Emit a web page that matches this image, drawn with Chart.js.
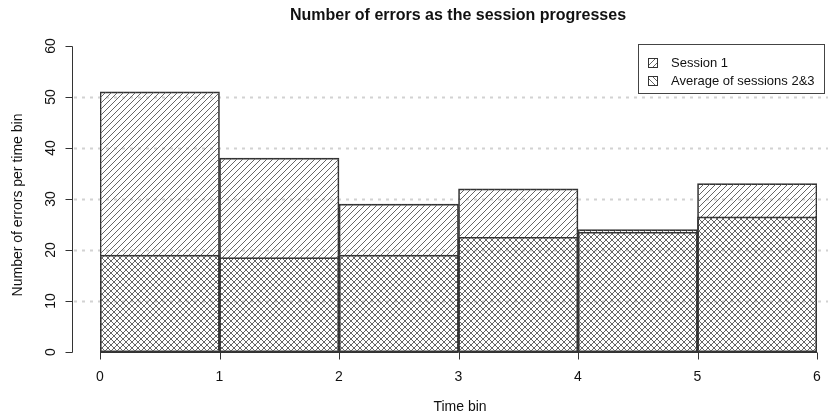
<!DOCTYPE html>
<html>
<head>
<meta charset="utf-8">
<script src="https://cdn.jsdelivr.net/npm/chart.js@4"></script>
<style>
  body { margin: 0; background: #fff; }
  #wrap { width: 828px; height: 418px; }
</style>
</head>
<body>
<div id="wrap"><canvas id="errorsChart" width="828" height="418"></canvas></div>
<script>
// Data
const binCentres = [0.5, 1.5, 2.5, 3.5, 4.5, 5.5];
const session1 = [51, 38, 29, 32, 24, 33];
const avgSessions23 = [19, 18.5, 19, 22.5, 23.5, 26.5];
const xTicks = [0, 1, 2, 3, 4, 5, 6];
const yTicks = [0, 10, 20, 30, 40, 50, 60];
const gridValues = [10, 20, 30, 40, 50];
const seriesNames = ["Session 1", "Average of sessions 2&3"];

const FONT = "'Liberation Sans', Arial, sans-serif";

// Build a transparent hatch pattern ("/" or "\")
function hatch(dir, colour) {
    const s = 6;
    const c = document.createElement("canvas");
    c.width = s; c.height = s;
    const g = c.getContext("2d");
    g.strokeStyle = colour;
    g.lineWidth = 1;
    g.beginPath();
    if (dir === "/") {
        g.moveTo(-1, s + 1); g.lineTo(s + 1, -1);
        g.moveTo(-1, 1); g.lineTo(1, -1);
        g.moveTo(s - 1, s + 1); g.lineTo(s + 1, s - 1);
    } else {
        g.moveTo(-1, -1); g.lineTo(s + 1, s + 1);
        g.moveTo(-1, s - 1); g.lineTo(1, s + 1);
        g.moveTo(s - 1, -1); g.lineTo(s + 1, 1);
    }
    g.stroke();
    return document.getElementById("errorsChart").getContext("2d").createPattern(c, "repeat");
}

const patSession1 = hatch("/", "#666");
const patAvg = hatch("\\", "#666");

// Grid lines, axes, texts and legend drawn R-style
const decorations = {
    id: "decorations",
    beforeDatasetsDraw(chart) {
        const ctx = chart.ctx;
        const y = chart.scales.y;
        ctx.save();
        ctx.strokeStyle = "#d2d2d2";
        ctx.lineWidth = 2;
        ctx.setLineDash([3, 5]);
        gridValues.forEach(v => {
            const py = Math.round(y.getPixelForValue(v)) + 0.5;
            ctx.beginPath();
            ctx.moveTo(74, py);
            ctx.lineTo(828, py);
            ctx.stroke();
        });
        ctx.restore();
    },
    afterDraw(chart) {
        const ctx = chart.ctx;
        const x = chart.scales.x;
        const y = chart.scales.y;
        ctx.save();
        ctx.strokeStyle = "#333";
        ctx.lineWidth = 1;
        ctx.fillStyle = "#111";

        // y axis
        const ax = 72.5;
        const y0 = Math.round(y.getPixelForValue(yTicks[0])) + 0.5;
        const y1 = Math.round(y.getPixelForValue(yTicks[yTicks.length - 1])) + 0.5;
        ctx.beginPath();
        ctx.moveTo(ax, y0); ctx.lineTo(ax, y1);
        yTicks.forEach(v => {
            const py = Math.round(y.getPixelForValue(v)) + 0.5;
            ctx.moveTo(ax, py); ctx.lineTo(ax - 7, py);
        });
        ctx.stroke();
        ctx.font = "14px " + FONT;
        ctx.textAlign = "center";
        ctx.textBaseline = "middle";
        yTicks.forEach(v => {
            const py = y.getPixelForValue(v);
            ctx.save();
            ctx.translate(51, py);
            ctx.rotate(-Math.PI / 2);
            ctx.fillText(String(v), 0, 0);
            ctx.restore();
        });

        // x axis
        const bx = Math.round(y.getPixelForValue(0)) + 0.5;
        ctx.beginPath();
        ctx.moveTo(x.getPixelForValue(xTicks[0]), bx);
        ctx.lineTo(x.getPixelForValue(xTicks[xTicks.length - 1]), bx);
        xTicks.forEach(v => {
            const px = Math.round(x.getPixelForValue(v)) + 0.5;
            ctx.moveTo(px, bx); ctx.lineTo(px, bx + 7);
        });
        ctx.stroke();
        xTicks.forEach(v => {
            ctx.fillText(String(v), x.getPixelForValue(v), 377);
        });

        // titles
        ctx.font = "14px " + FONT;
        ctx.fillText("Time bin", 460, 407);
        ctx.save();
        ctx.translate(18, 205);
        ctx.rotate(-Math.PI / 2);
        ctx.fillText("Number of errors per time bin", 0, 0);
        ctx.restore();
        ctx.font = "bold 16px " + FONT;
        ctx.fillText("Number of errors as the session progresses", 458, 16);

        // legend
        ctx.strokeStyle = "#444";
        ctx.strokeRect(638.5, 44.5, 186, 49);
        ctx.font = "13px " + FONT;
        ctx.textAlign = "left";
        const pats = [patSession1, patAvg];
        const rows = [63, 81];
        rows.forEach((ry, i) => {
            const sx = 648.5, sy = ry - 4.5;
            ctx.fillStyle = pats[i];
            ctx.fillRect(sx, sy, 9, 9);
            ctx.strokeStyle = "#333";
            ctx.strokeRect(sx, sy, 9, 9);
            ctx.fillStyle = "#111";
            ctx.fillText(seriesNames[i], 671, ry);
        });
        ctx.restore();
    }
};

new Chart(document.getElementById("errorsChart"), {
    type: "bar",
    data: {
        datasets: [
            {
                label: seriesNames[1],
                data: binCentres.map((c, i) => ({ x: c, y: avgSessions23[i] })),
                backgroundColor: patAvg,
                borderColor: "#333",
                borderWidth: 1,
                borderSkipped: false,
                order: 0,
            },
            {
                label: seriesNames[0],
                data: binCentres.map((c, i) => ({ x: c, y: session1[i] })),
                backgroundColor: patSession1,
                borderColor: "#333",
                borderWidth: 1,
                borderSkipped: false,
                order: 1,
            },
        ],
    },
    options: {
        responsive: false,
        animation: false,
        layout: { padding: { left: 100, right: 11, top: 46, bottom: 66 } },
        datasets: { bar: { barPercentage: 1, categoryPercentage: 1, grouped: false } },
        scales: {
            x: { type: "linear", min: 0, max: 6, offset: false, display: false, ticks: { stepSize: 1 } },
            y: { min: 0, max: 60, display: false },
        },
        plugins: { legend: { display: false }, title: { display: false }, tooltip: { enabled: false } },
    },
    plugins: [decorations],
});
</script>
</body>
</html>
